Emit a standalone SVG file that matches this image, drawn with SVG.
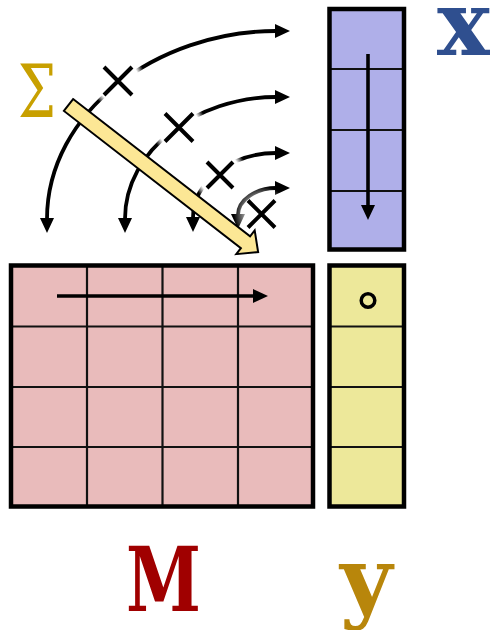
<svg xmlns="http://www.w3.org/2000/svg" width="490" height="630" viewBox="0 0 490 630">
<defs>
<style>
.frame{stroke:#000;stroke-width:4.5;}
.grid{stroke:#111;stroke-width:2.2;fill:none;}
.arc{fill:none;stroke:#000;stroke-width:3.8;marker-start:url(#ah);marker-end:url(#ah);}
.cross{stroke:#000;stroke-width:4;fill:none;}
.ln{stroke:#000;stroke-width:3.6;fill:none;marker-end:url(#ah);}
.lbl{font-family:"DejaVu Serif","Liberation Serif",serif;font-weight:bold;font-size:90px;}
</style>
<marker id="ah" markerUnits="userSpaceOnUse" markerWidth="16" markerHeight="15" refX="1" refY="7" orient="auto-start-reverse">
<path d="M0,0 L15,7 L0,14 z" fill="#000"/>
</marker>
<radialGradient id="halo">
<stop offset="0" stop-color="#fff" stop-opacity="1"/>
<stop offset="0.75" stop-color="#fff" stop-opacity="1"/>
<stop offset="1" stop-color="#fff" stop-opacity="0"/>
</radialGradient>
<radialGradient id="halo2">
<stop offset="0" stop-color="#fff" stop-opacity="1"/>
<stop offset="0.6" stop-color="#fff" stop-opacity="0.6"/>
<stop offset="1" stop-color="#fff" stop-opacity="0"/>
</radialGradient>
</defs>
<rect width="490" height="630" fill="#fff"/>

<g id="matrixM">
<rect x="11" y="265.5" width="302" height="241" fill="#e9bbbb"/>
<path class="grid" d="M87,265.5V506.5M162.5,265.5V506.5M238,265.5V506.5M11,326.5H313M11,387H313M11,447H313"/>
<rect class="frame" x="11" y="265.5" width="302" height="241" fill="none"/>
<line class="ln" x1="57" y1="296" x2="254" y2="296"/>
</g>

<g id="vectorY">
<rect x="329.5" y="265.5" width="74.5" height="241" fill="#ede89a"/>
<path class="grid" d="M329.5,326.5H404M329.5,387H404M329.5,447H404"/>
<rect class="frame" x="329.5" y="265.5" width="74.5" height="241" fill="none"/>
<circle cx="368" cy="300.5" r="6.8" fill="none" stroke="#000" stroke-width="3.5"/>
</g>

<g id="vectorX">
<rect x="329.5" y="9" width="74.5" height="240.5" fill="#afafe9"/>
<path class="grid" d="M329.5,69H404M329.5,130H404M329.5,191H404"/>
<rect class="frame" x="329.5" y="9" width="74.5" height="240.5" fill="none"/>
<line class="ln" x1="368" y1="54" x2="368" y2="206"/>
</g>

<g id="connectors">
<path class="arc" d="M47,219 C47,112 157,31 276,31"/>
<path class="arc" d="M125,219 C125,149.5 197.5,97 276,97"/>
<path class="arc" d="M193,218 C193,181 233,153 276,153"/>
<path class="arc" d="M238,215 C238,200 256,188 276,188"/>
</g>

<g id="products">
<circle cx="118" cy="81" r="28" fill="url(#halo)"/>
<circle cx="179" cy="127.5" r="28" fill="url(#halo)"/>
<circle cx="220" cy="175" r="28" fill="url(#halo)"/>
<circle cx="261.5" cy="214" r="28" fill="url(#halo2)"/>
<path class="cross" d="M104,67L132,95M104,95L132,67"/>
<path class="cross" d="M165,113.5L193,141.5M165,141.5L193,113.5"/>
<path class="cross" d="M207,162L233,188M207,188L233,162"/>
<path class="cross" d="M248,200.5L275,227.5M248,227.5L275,200.5"/>
</g>

<g id="sumArrow" transform="translate(68.5,105) rotate(37.8)">
<path d="M0,-7.5 L224,-7.5 L224,-15 L240,0 L224,15 L224,7.5 L0,7.5 Z" fill="#fce795" stroke="#000" stroke-width="2" stroke-linejoin="miter"/>
</g>

<g id="labels">
<text x="18" y="117" font-family="'DejaVu Serif','Liberation Serif',serif" font-size="73" fill="#c8a000" textLength="38" lengthAdjust="spacingAndGlyphs">Σ</text>
<text class="lbl" x="126" y="611" fill="#a00000" textLength="75" lengthAdjust="spacingAndGlyphs">M</text>
<text class="lbl" x="340" y="611" fill="#b8860b">y</text>
<text class="lbl" x="437" y="55" fill="#2f4f8f" font-size="88">x</text>
</g>
</svg>
